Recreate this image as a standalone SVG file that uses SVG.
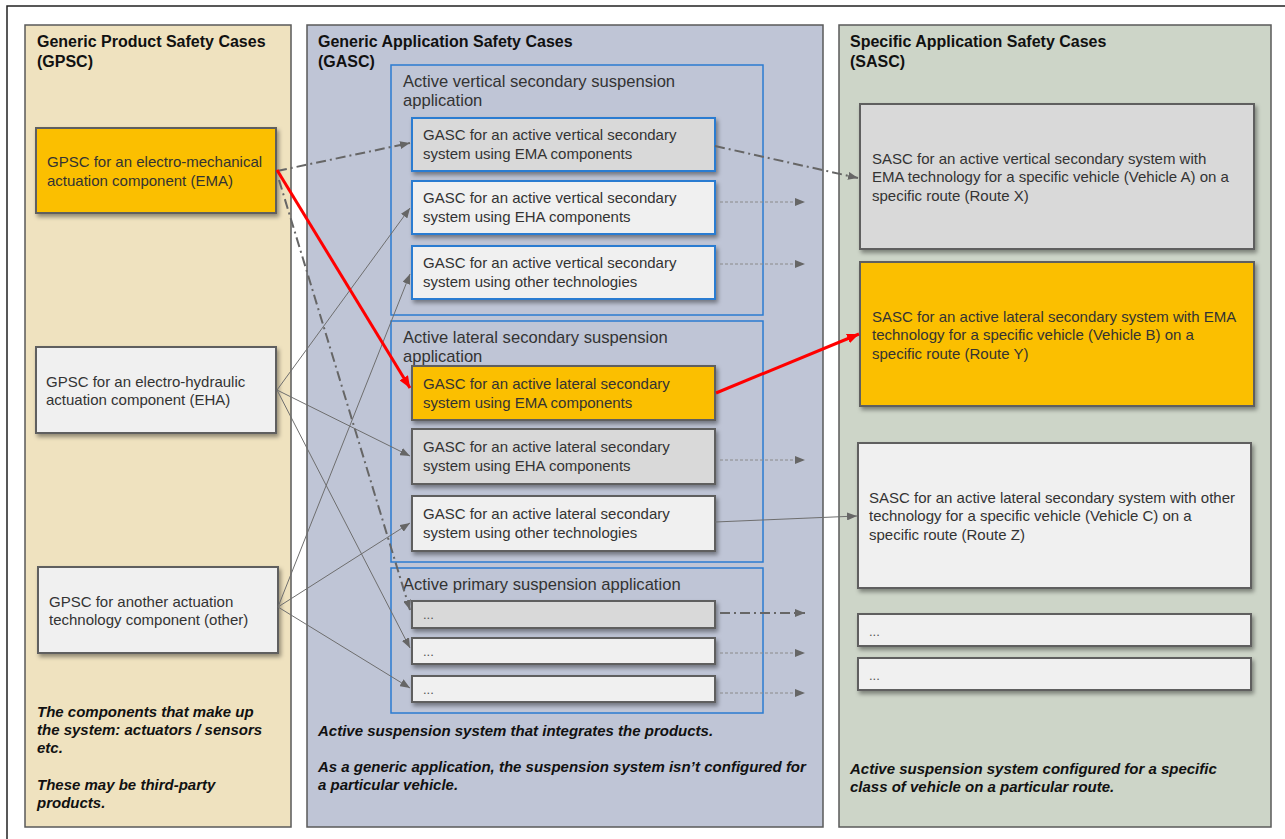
<svg xmlns="http://www.w3.org/2000/svg" width="1285" height="839" viewBox="0 0 1285 839">
<style>
.bg{fill:#ffffff}
.panel{stroke:#5a5a5a;stroke-width:1.5}
.ptitle{font-family:"Liberation Sans",Arial,sans-serif;font-size:16px;font-weight:bold;fill:#111}
.note{font-family:"Liberation Sans",Arial,sans-serif;font-size:15px;font-weight:bold;font-style:italic;fill:#111}
.frame{fill:none;stroke:#2b7bd1;stroke-width:1.5}
.ftitle{font-family:"Liberation Sans",Arial,sans-serif;font-size:16.6px;fill:#333}
.box{stroke:#5f5f5f;stroke-width:2;filter:url(#sh)}
.bbox{stroke:#2b7bd1;stroke-width:2;filter:url(#sh)}
.t{font-family:"Liberation Sans",Arial,sans-serif;font-size:15px;fill:#333}
.dots{font-family:"Liberation Sans",Arial,sans-serif;font-size:13px;fill:#555}
.yel{fill:#fbbf05}
.gry{fill:#d9d9d9}
.wht{fill:#f0f0f0}
.thin{fill:none;stroke:#6e6e6e;stroke-width:1}
.dd{fill:none;stroke:#666;stroke-width:2;stroke-dasharray:10,4,2,4}
.dot{fill:none;stroke:#8a8a8a;stroke-width:1;stroke-dasharray:3,2}
.red{fill:none;stroke:#ff0000;stroke-width:3}
</style>
<defs>
<filter id="sh" x="-10%" y="-20%" width="125%" height="150%">
<feDropShadow dx="2" dy="3" stdDeviation="2" flood-color="#000" flood-opacity="0.4"/>
</filter>
<marker id="ag" viewBox="0 0 10 8" refX="10" refY="4" markerWidth="10" markerHeight="8" markerUnits="userSpaceOnUse" orient="auto">
<path d="M0,0 L10,4 L0,8 z" fill="#666"/>
</marker>
<marker id="ar" viewBox="0 0 12 10" refX="12" refY="5" markerWidth="12" markerHeight="10" markerUnits="userSpaceOnUse" orient="auto">
<path d="M0,0 L12,5 L0,10 z" fill="#ff0000"/>
</marker>
</defs>
<rect class="bg" x="0" y="0" width="1285" height="839"/>
<rect x="7" y="6" width="1290" height="850" fill="none" stroke="#222" stroke-width="1.5"/>

<g id="panel-gpsc">
<rect class="panel" x="25" y="25" width="266" height="802" fill="#efe2bf"/>
<text class="ptitle" x="37" y="47">Generic Product Safety Cases</text>
<text class="ptitle" x="37" y="67">(GPSC)</text>
<text class="note" x="37" y="717">The components that make up</text>
<text class="note" x="37" y="735">the system: actuators / sensors</text>
<text class="note" x="37" y="753">etc.</text>
<text class="note" x="37" y="790">These may be third-party</text>
<text class="note" x="37" y="808">products.</text>
</g>
<g id="panel-gasc">
<rect class="panel" x="307" y="25" width="516" height="802" fill="#bfc5d6"/>
<text class="ptitle" x="318" y="47">Generic Application Safety Cases</text>
<text class="ptitle" x="318" y="67">(GASC)</text>
<text class="note" x="318" y="736">Active suspension system that integrates the products.</text>
<text class="note" x="318" y="772">As a generic application, the suspension system isn’t configured for</text>
<text class="note" x="318" y="790">a particular vehicle.</text>
</g>
<g id="panel-sasc">
<rect class="panel" x="839" y="25" width="432" height="802" fill="#cdd5c8"/>
<text class="ptitle" x="850" y="47">Specific Application Safety Cases</text>
<text class="ptitle" x="850" y="67">(SASC)</text>
<text class="note" x="850" y="774">Active suspension system configured for a specific</text>
<text class="note" x="850" y="792">class of vehicle on a particular route.</text>
</g>

<g id="frame-vertical">
<rect class="frame" x="391" y="65" width="372" height="250"/>
<text class="ftitle" x="403" y="87">Active vertical secondary suspension</text>
<text class="ftitle" x="403" y="106">application</text>
</g>
<g id="frame-lateral">
<rect class="frame" x="391" y="321" width="372" height="241"/>
<text class="ftitle" x="403" y="343">Active lateral secondary suspension</text>
<text class="ftitle" x="403" y="362">application</text>
</g>
<g id="frame-primary">
<rect class="frame" x="391" y="568" width="372" height="145"/>
<text class="ftitle" x="403" y="590">Active primary suspension application</text>
</g>

<g id="gpsc-ema">
<rect class="box yel" x="36" y="128" width="240" height="85"/>
<text class="t" x="47" y="167">GPSC for an electro-mechanical</text>
<text class="t" x="47" y="186">actuation component (EMA)</text>
</g>
<g id="gpsc-eha">
<rect class="box wht" x="36" y="347" width="240" height="86"/>
<text class="t" x="46" y="387">GPSC for an electro-hydraulic</text>
<text class="t" x="46" y="405">actuation component (EHA)</text>
</g>
<g id="gpsc-other">
<rect class="box wht" x="38" y="567" width="240" height="86"/>
<text class="t" x="49" y="607">GPSC for another actuation</text>
<text class="t" x="49" y="625">technology component (other)</text>
</g>

<g id="gasc-v-ema">
<rect class="bbox gry" x="412" y="118" width="303" height="53"/>
<text class="t" x="423" y="140">GASC for an active vertical secondary</text>
<text class="t" x="423" y="159">system using EMA components</text>
</g>
<g id="gasc-v-eha">
<rect class="bbox wht" x="412" y="181" width="303" height="53"/>
<text class="t" x="423" y="203">GASC for an active vertical secondary</text>
<text class="t" x="423" y="222">system using EHA components</text>
</g>
<g id="gasc-v-other">
<rect class="bbox wht" x="412" y="246" width="303" height="53"/>
<text class="t" x="423" y="268">GASC for an active vertical secondary</text>
<text class="t" x="423" y="287">system using other technologies</text>
</g>
<g id="gasc-l-ema">
<rect class="box yel" x="412" y="366" width="303" height="54"/>
<text class="t" x="423" y="389">GASC for an active lateral secondary</text>
<text class="t" x="423" y="408">system using EMA components</text>
</g>
<g id="gasc-l-eha">
<rect class="box gry" x="412" y="429" width="303" height="55"/>
<text class="t" x="423" y="452">GASC for an active lateral secondary</text>
<text class="t" x="423" y="471">system using EHA components</text>
</g>
<g id="gasc-l-other">
<rect class="box wht" x="412" y="496" width="303" height="55"/>
<text class="t" x="423" y="519">GASC for an active lateral secondary</text>
<text class="t" x="423" y="538">system using other technologies</text>
</g>
<g id="gasc-p1">
<rect class="box gry" x="412" y="601" width="303" height="27"/>
<text class="dots" x="423" y="619">...</text>
</g>
<g id="gasc-p2">
<rect class="box wht" x="412" y="638" width="303" height="26"/>
<text class="dots" x="423" y="656">...</text>
</g>
<g id="gasc-p3">
<rect class="box wht" x="412" y="676" width="303" height="26"/>
<text class="dots" x="423" y="694">...</text>
</g>

<g id="sasc-a">
<rect class="box gry" x="860" y="104" width="394" height="145"/>
<text class="t" x="872" y="164">SASC for an active vertical secondary system with</text>
<text class="t" x="872" y="182">EMA technology for a specific vehicle (Vehicle A) on a</text>
<text class="t" x="872" y="201">specific route (Route X)</text>
</g>
<g id="sasc-b">
<rect class="box yel" x="860" y="262" width="394" height="144"/>
<text class="t" x="872" y="322">SASC for an active lateral secondary system with EMA</text>
<text class="t" x="872" y="340">technology for a specific vehicle (Vehicle B) on a</text>
<text class="t" x="872" y="359">specific route (Route Y)</text>
</g>
<g id="sasc-c">
<rect class="box wht" x="858" y="443" width="393" height="145"/>
<text class="t" x="869" y="503">SASC for an active lateral secondary system with other</text>
<text class="t" x="869" y="521">technology for a specific vehicle (Vehicle C) on a</text>
<text class="t" x="869" y="540">specific route (Route Z)</text>
</g>
<g id="sasc-d">
<rect class="box wht" x="858" y="614" width="393" height="32"/>
<text class="dots" x="869" y="636">...</text>
</g>
<g id="sasc-e">
<rect class="box wht" x="858" y="658" width="393" height="32"/>
<text class="dots" x="869" y="680">...</text>
</g>

<g id="connectors">
<path class="dd" d="M277,171 L410,143" marker-end="url(#ag)"/>
<path class="dd" d="M715,146 L858,178" marker-end="url(#ag)"/>
<path class="dd" d="M279,180 L410,610" marker-end="url(#ag)"/>
<path class="thin" d="M277,390 L410,208" marker-end="url(#ag)"/>
<path class="thin" d="M277,390 L410,456" marker-end="url(#ag)"/>
<path class="thin" d="M277,390 L410,648" marker-end="url(#ag)"/>
<path class="thin" d="M278,607 L410,274" marker-end="url(#ag)"/>
<path class="thin" d="M278,607 L410,523" marker-end="url(#ag)"/>
<path class="thin" d="M278,607 L410,688" marker-end="url(#ag)"/>
<path class="thin" d="M715,522 L857,516" marker-end="url(#ag)"/>
<path class="red" d="M277,170 L410,388" marker-end="url(#ar)"/>
<path class="red" d="M716,393 L859,334" marker-end="url(#ar)"/>
<path class="dot" d="M720,202 L805,202" marker-end="url(#ag)"/>
<path class="dot" d="M720,264 L805,264" marker-end="url(#ag)"/>
<path class="dot" d="M720,460 L805,460" marker-end="url(#ag)"/>
<path class="dd" d="M720,613 L805,613" marker-end="url(#ag)"/>
<path class="dot" d="M720,653 L805,653" marker-end="url(#ag)"/>
<path class="dot" d="M720,693 L805,693" marker-end="url(#ag)"/>
</g>
</svg>
